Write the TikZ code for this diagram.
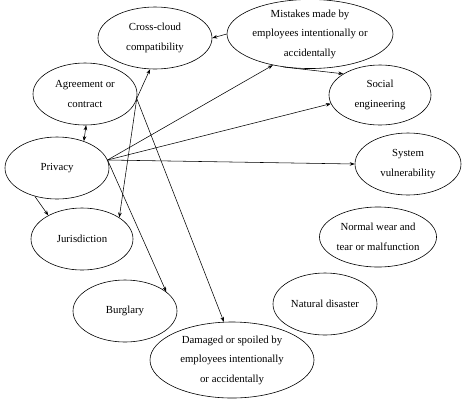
\documentclass[tikz,border=0pt]{standalone}
\usepackage{fontspec}
\setmainfont{Liberation Serif}
\usetikzlibrary{shapes.geometric,arrows.meta}
\begin{document}
\begin{tikzpicture}[x=1pt,y=-1pt,
  ell/.style={draw,ellipse,inner sep=0pt,line width=0.6pt,align=center,
    font=\fontsize{10.8}{19.5}\selectfont},
  arr/.style={line width=0.55pt,-{Stealth[length=5pt,width=3.6pt]}},
  darr/.style={line width=0.55pt,{Stealth[length=5pt,width=3.6pt]}-{Stealth[length=5pt,width=3.6pt]}}]
\useasboundingbox (0,0) rectangle (462,400);
\node[ell,minimum width=114pt,minimum height=62pt] (cross) at (155,38) {Cross-cloud\\compatibility};
\node[ell,minimum width=166pt,minimum height=64pt] (mist) at (310,34) {Mistakes made by\\employees intentionally or\\accidentally};
\node[ell,minimum width=102pt,minimum height=60pt] (soc) at (380,95) {Social\\engineering};
\node[ell,minimum width=106pt,minimum height=62pt] (sys) at (408,164) {System\\vulnerability};
\node[ell,minimum width=104pt,minimum height=62pt] (agr) at (85,94) {Agreement or\\contract};
\node[ell,minimum width=104pt,minimum height=62pt] (priv) at (57,168) {Privacy};
\node[ell,minimum width=102pt,minimum height=62pt] (jur) at (82,239) {Jurisdiction};
\node[ell,minimum width=104pt,minimum height=62pt] (burg) at (125,311) {Burglary};
\node[ell,minimum width=164pt,minimum height=76pt] (dam) at (232,360) {Damaged or spoiled by\\employees intentionally\\or accidentally};
\node[ell,minimum width=104pt,minimum height=60pt] (norm) at (378,237) {Normal wear and\\tear or malfunction};
\node[ell,minimum width=104pt,minimum height=62pt] (nat) at (325,304) {Natural disaster};

\draw[arr] (mist.west) -- (cross.east);
\draw[arr] (mist.-129) -- (soc.150);
\draw[arr] (priv.9) -- (mist.220);
\draw[arr] (priv.9) -- (soc.190);
\draw[arr] (priv.9) -- (sys.180);
\draw[arr] (priv.9) -- (burg.25);
\draw[darr] (agr.-88) -- (priv.45);
\draw[arr] (priv.232) -- (jur.145);
\draw[arr] (agr.-5) -- (cross.261);
\draw[arr] (agr.-5) -- (jur.30);
\draw[arr] (agr.-5) -- (dam.102);
\end{tikzpicture}
\end{document}
